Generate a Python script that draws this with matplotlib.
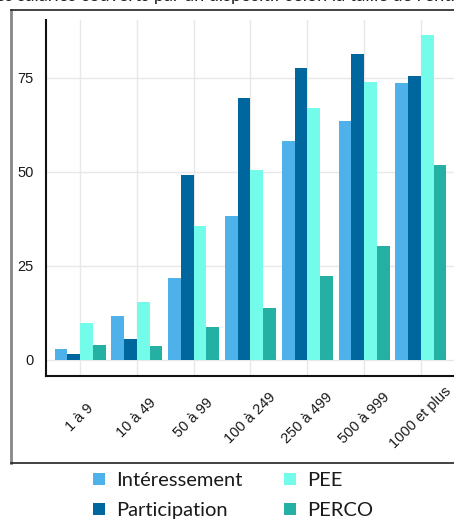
import matplotlib
matplotlib.use("Agg")
import matplotlib.pyplot as plt
import matplotlib.transforms as mtransforms
import numpy as np
from matplotlib.patches import Patch
from matplotlib.lines import Line2D

categories = ["1 à 9", "10 à 49", "50 à 99", "100 à 249", "250 à 499", "500 à 999", "1000 et plus"]
series_names = ["Intéressement", "Participation", "PEE", "PERCO"]
interessement = [2.9, 11.7, 21.8, 38.3, 58.2, 63.6, 73.7]
participation = [1.6, 5.6, 49.2, 69.7, 77.7, 81.4, 75.5]
pee = [9.8, 15.4, 35.6, 50.5, 67.0, 74.0, 86.4]
perco = [4.0, 3.7, 8.8, 13.8, 22.3, 30.3, 51.9]
yticks = [0, 25, 50, 75]

colors = ["#4eb1ea", "#00669e", "#73fcea", "#24b1a3"]

W, H = 454, 522
fig = plt.figure(figsize=(W / 100, H / 100), dpi=100)

ax = fig.add_axes([46 / W, (H - 376) / H, (455 - 46) / W, (376 - 20) / H])
x = np.arange(1, len(categories) + 1)
bw = 0.225
data = [interessement, participation, pee, perco]
for i, (vals, c) in enumerate(zip(data, colors)):
    ax.bar(x + (i - 1.5) * bw, vals, width=bw, color=c, zorder=2, linewidth=0)

ax.set_xlim(0.4, 7.6)
ax.set_ylim(-4.3, 90.4)
ax.set_yticks(yticks)
ax.set_xticks(x)
ax.set_xticklabels(categories, rotation=45, ha="center", va="center",
                   rotation_mode="anchor", fontsize=10.5, family="Liberation Sans")
ax.set_yticklabels([str(v) for v in yticks], fontsize=10.5, family="Liberation Sans")
ax.tick_params(axis="both", length=0, colors="#1a1a1a")
ax.tick_params(axis="y", pad=9)
ax.tick_params(axis="x", pad=0)
off = mtransforms.ScaledTranslation(0, -42 / 100, fig.dpi_scale_trans)
for lab in ax.get_xticklabels():
    lab.set_transform(lab.get_transform() + off)
ax.grid(True, color="#e8e8e8", linewidth=1, zorder=0)
ax.set_axisbelow(True)
for s in ["top", "right"]:
    ax.spines[s].set_visible(False)
for s in ["left", "bottom"]:
    ax.spines[s].set_color("#111111")
    ax.spines[s].set_linewidth(1.5)

# frame around the plot
fig.add_artist(Line2D([11 / W, 11 / W], [(H - 10) / H, (H - 463) / H], color="#888888", linewidth=2, transform=fig.transFigure))
fig.add_artist(Line2D([11 / W, 1.01], [(H - 10) / H, (H - 10) / H], color="#222222", linewidth=1.2, transform=fig.transFigure))
fig.add_artist(Line2D([11 / W, 1.01], [(H - 463) / H, (H - 463) / H], color="#222222", linewidth=1.2, transform=fig.transFigure))

# truncated title (only its lower edge is visible, as in the reference)
fig.text(0.5, (H - 1.2) / H, "Part des salariés couverts par un dispositif selon la taille de l'entreprise",
         ha="center", va="baseline", fontsize=13, family="Lato", color="#222222")

handles = [Patch(facecolor=c, edgecolor="none") for c in colors]
leg = fig.legend(handles, series_names, ncol=2,
                 loc="upper left", bbox_to_anchor=(93 / W, (H - 472) / H),
                 frameon=False, prop={"family": "Lato", "size": 14.5},
                 handlelength=0.6, handleheight=0.6, handletextpad=0.55,
                 columnspacing=2.05, labelspacing=0.65, borderaxespad=0,
                 borderpad=0)
for t in leg.get_texts():
    t.set_color("#1a1a1a")

fig.savefig("out.png", dpi=100)
